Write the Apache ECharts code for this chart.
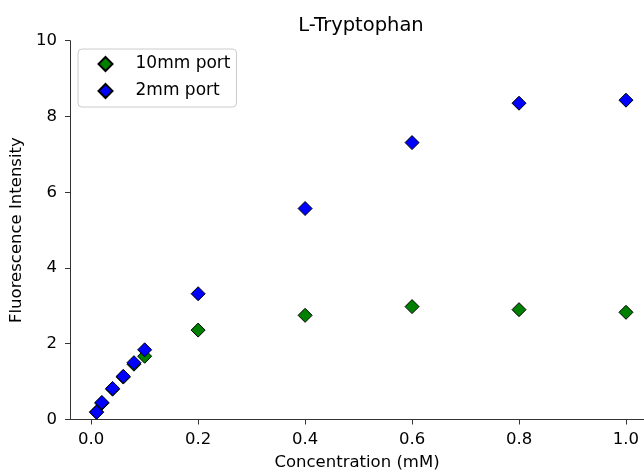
<!DOCTYPE html>
<html>
<head>
<meta charset="utf-8">
<script src="https://cdn.jsdelivr.net/npm/echarts@6/dist/echarts.min.js"></script>
<style>html,body{margin:0;padding:0;background:#fff}#c{width:644px;height:472px}</style>
</head>
<body>
<div id="c"></div>
<script>
const concentrations = [0.01, 0.02, 0.04, 0.06, 0.08, 0.1, 0.2, 0.4, 0.6, 0.8, 1.0];
const port10mm = [0.2, 0.43, 0.8, 1.12, 1.46, 1.67, 2.36, 2.75, 2.98, 2.90, 2.83];
const port2mm = [0.19, 0.45, 0.82, 1.14, 1.5, 1.84, 3.32, 5.57, 7.31, 8.35, 8.43];
const xTicks = [0, 0.2, 0.4, 0.6, 0.8, 1.0];
const yTicks = [0, 2, 4, 6, 8, 10];

const font = 'DejaVu Sans';
const pairs = (ys) => concentrations.map((x, i) => [x, ys[i]]);

const chart = echarts.init(document.getElementById('c'), null, {renderer: 'canvas'});
chart.setOption({
  animation: false,
  backgroundColor: '#fff',
  textStyle: {fontFamily: font},
  title: {
    text: 'L-Tryptophan',
    left: 361, top: 16, padding: 0,
    textAlign: 'center',
    textStyle: {fontFamily: font, fontSize: 19.5, fontWeight: 'normal', color: '#000'}
  },
  legend: {
    orient: 'vertical',
    left: 78, top: 49,
    padding: [6.5, 6, 7.5, 19.5],
    itemGap: 10,
    itemWidth: 14, itemHeight: 14,
    borderColor: '#cccccc', borderWidth: 1, borderRadius: 4,
    backgroundColor: '#fff',
    textStyle: {fontFamily: font, fontSize: 17, color: '#000', padding: [0, 0, 0, 18]},
    data: ['10mm port', '2mm port']
  },
  grid: {left: 70, top: 40.7, bottom: 52.5, right: 0, containLabel: false, outerBoundsMode: 'none'},
  xAxis: {
    type: 'value',
    min: -0.0396, max: 1.0337,
    name: 'Concentration (mM)',
    nameLocation: 'middle', nameGap: 35,
    nameTextStyle: {fontFamily: font, fontSize: 16.5, color: '#000'},
    axisLine: {show: true, onZero: false, lineStyle: {color: '#333', width: 1}},
    axisTick: {show: true, length: 5, lineStyle: {color: '#333'}, customValues: xTicks},
    axisLabel: {fontFamily: font, fontSize: 16.5, color: '#000', margin: 12, customValues: xTicks,
      formatter: v => v.toFixed(1)},
    splitLine: {show: false}
  },
  yAxis: {
    type: 'value',
    min: 0, max: 10, interval: 2,
    name: 'Fluorescence Intensity',
    nameLocation: 'middle', nameGap: 43,
    nameTextStyle: {fontFamily: font, fontSize: 16.5, color: '#000'},
    axisLine: {show: true, onZero: false, lineStyle: {color: '#333', width: 1}},
    axisTick: {show: true, length: 5, lineStyle: {color: '#333'}},
    axisLabel: {fontFamily: font, fontSize: 16.5, color: '#000', margin: 13,
      formatter: v => String(v)},
    splitLine: {show: false}
  },
  series: [
    {
      name: '10mm port', type: 'scatter', symbol: 'diamond', symbolSize: 14,
      itemStyle: {color: '#008000', borderColor: '#000', borderWidth: 1, opacity: 1},
      data: pairs(port10mm)
    },
    {
      name: '2mm port', type: 'scatter', symbol: 'diamond', symbolSize: 14,
      itemStyle: {color: '#0000ff', borderColor: '#000', borderWidth: 1, opacity: 1},
      data: pairs(port2mm)
    }
  ]
});
</script>
</body>
</html>
